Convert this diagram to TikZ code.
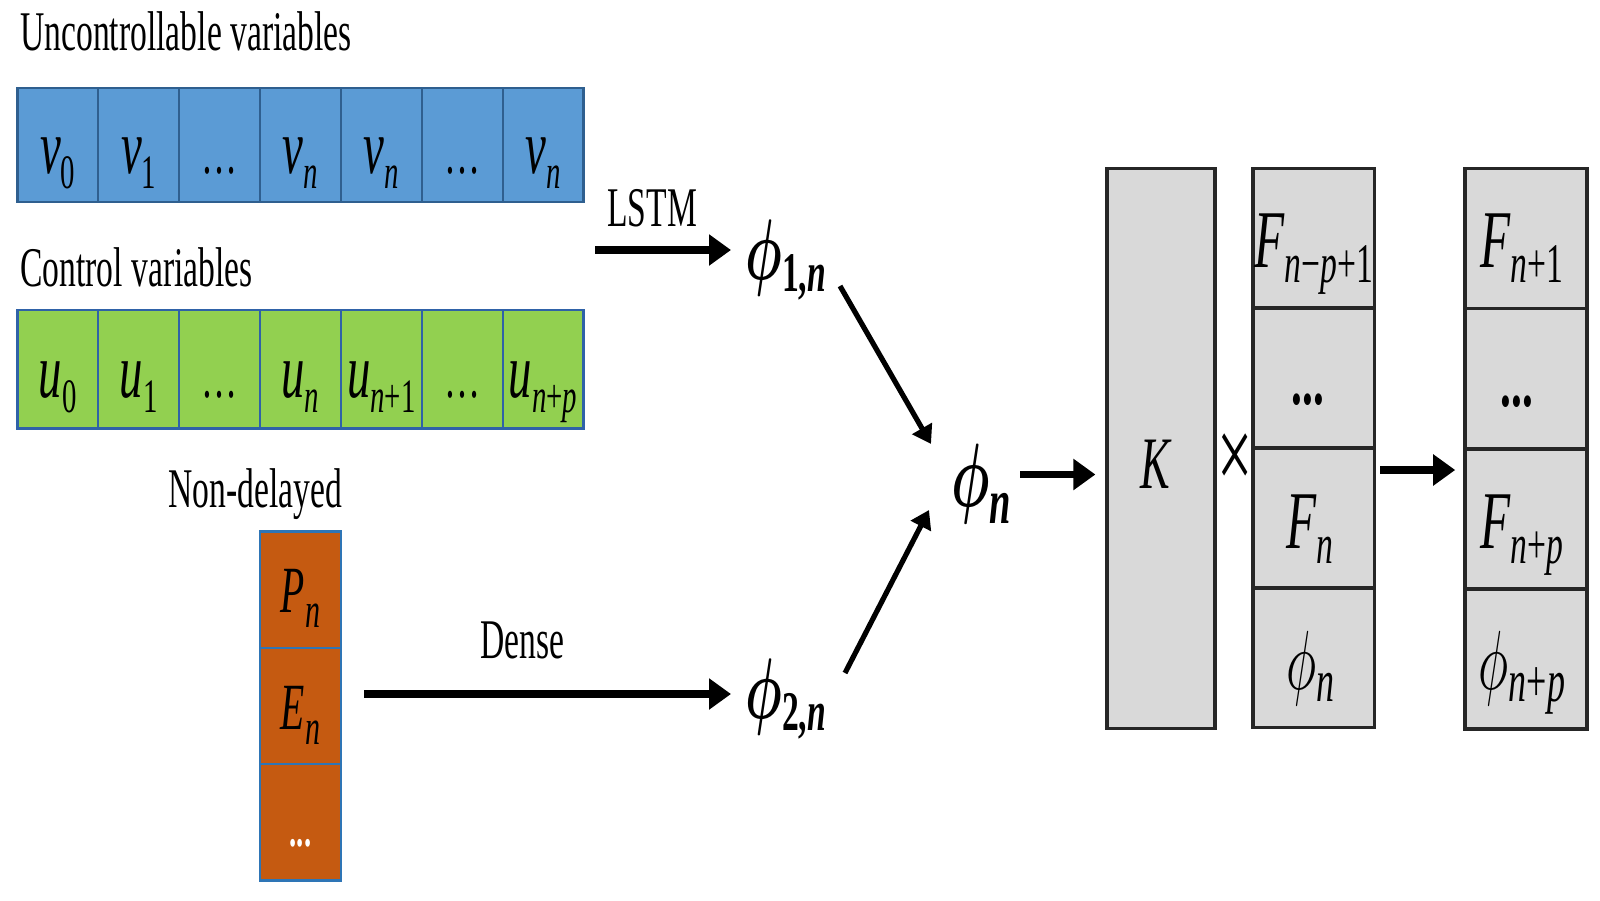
\documentclass[tikz,border=0pt]{standalone}
\usepackage{fontspec}
\setmainfont{Liberation Serif}[FakeStretch=0.6]
\usepackage{graphicx}
\usetikzlibrary{arrows.meta}
\definecolor{bfill}{HTML}{5B9BD5}
\definecolor{bline}{HTML}{2F5F8F}
\definecolor{gfill}{HTML}{92D050}
\definecolor{gline}{HTML}{2F62A8}
\definecolor{ofill}{HTML}{C55A11}
\definecolor{oline}{HTML}{2E75B6}
\definecolor{kfill}{HTML}{D9D9D9}
\definecolor{kline}{HTML}{262626}
\newcommand\sx[5]{{\fontsize{#1pt}{#1pt}\selectfont #4}\raisebox{-#3pt}{\fontsize{#2pt}{#2pt}\selectfont #5}}
\newcommand\phr[4]{\scalebox{\fpeval{0.06*#1}}[\fpeval{#1/10}]{\fontsize{10pt}{12pt}\selectfont$\phi$}\raisebox{-#3pt}{\fontsize{#2pt}{#2pt}\selectfont #4}}
\newcommand\phb[4]{\scalebox{\fpeval{0.06*#1}}[\fpeval{#1/10}]{\fontsize{10pt}{12pt}\selectfont\boldmath$\phi$}\raisebox{-#3pt}{\fontsize{#2pt}{#2pt}\selectfont\bfseries #4}}
\newcommand\bv[1]{\sx{39}{24}{7.5}{\textit{v}}{#1}}
\newcommand\gu[1]{\sx{39}{24}{7.5}{\textit{u}}{#1}}
\newcommand\fF[1]{\sx{41}{28}{7.5}{\textit{F}}{#1}}
\newcommand\rowdots{{\fontsize{30pt}{30pt}\selectfont …}}
\newcommand\coldots{{\fontsize{36pt}{36pt}\selectfont\bfseries ...}}
\begin{document}
\begin{tikzpicture}[x=0.5pt,y=-0.5pt,
  lab/.style={inner sep=0pt, anchor=base west, font=\fontsize{28pt}{30pt}\selectfont},
  txt/.style={inner sep=0pt, anchor=base},
  bcell/.style={draw=bline, fill=bfill, line width=1.2pt, minimum width=40.45pt, minimum height=57.1pt, inner sep=0pt},
  gcell/.style={draw=gline, fill=gfill, line width=1.2pt, minimum width=40.45pt, minimum height=59.2pt, inner sep=0pt},
  ocell/.style={draw=oline, fill=ofill, line width=1.2pt, minimum width=40.3pt, minimum height=58.15pt, inner sep=0pt},
  kbox/.style={draw=kline, fill=kfill, line width=1.6pt, inner sep=0pt},
  fcell/.style={kbox, line width=1.8pt, minimum width=60.75pt, minimum height=69.9pt},
  rcell/.style={kbox, line width=1.8pt, minimum width=61pt, minimum height=70.15pt},
  arr/.style={line width=3.6pt, -{Triangle[length=11pt,width=15pt]}},
  darr/.style={line width=2.6pt, -{Triangle[length=9pt,width=11pt]}}]
\useasboundingbox (0,0) rectangle (1600,900);

% labels
\node[lab] (tunc) at (20,50) {Uncontrollable variables};
\node[lab] (tctl) at (20,286) {Control variables};
\node[lab] (tnd) at (168,507) {Non-delayed};
\node[lab] (tlstm) at (607,226) {LSTM};
\node[lab] (tdense) at (480,658) {Dense};

% blue row
\foreach \t [count=\i] in {{\bv{0}},{\bv{1}},{\rowdots},{\bv{\textit{n}}},{\bv{\textit{n}}},{\rowdots},{\bv{\textit{n}}}}{
  \node[bcell] (b\i) at ({57.75+(\i-1)*80.9},144.9) {};
  \node[txt] (bt\i) at ({57.75+(\i-1)*80.9},173.5) {\t};
}
% green row
\foreach \t [count=\i] in {{\gu{0}},{\gu{1}},{\rowdots},{\gu{\textit{n}}},{\gu{\textit{n}+1}},{\rowdots},{\gu{\textit{n}+\textit{p}}}}{
  \node[gcell] (g\i) at ({57.75+(\i-1)*80.9},369.4) {};
  \node[txt] (gt\i) at ({57.75+(\i-1)*80.9},397) {\t};
}
% orange column
\node[ocell] (o1) at (300.5,589.75) {};
\node[ocell] (o2) at (300.5,706.05) {};
\node[ocell] (o3) at (300.5,822.35) {};
\node[txt] (ot1) at (300.5,612) {\sx{33}{25}{7.5}{\textit{P}}{\textit{n}}};
\node[txt] (ot2) at (300.5,729) {\sx{33}{25}{7.5}{\textit{E}}{\textit{n}}};
\node[txt, text=white] (ot3) at (300.5,846) {{\fontsize{24pt}{24pt}\selectfont\bfseries ...}};

% phi nodes
\node[inner sep=0pt, anchor=base west] (p1) at (745,279) {\phb{43}{28}{6}{1,\textit{n}}};
\node[inner sep=0pt, anchor=base west] (p2) at (745,718) {\phb{43}{28}{6}{2,\textit{n}}};
\node[inner sep=0pt, anchor=base west] (pn) at (951,506) {\phb{45}{32}{8.5}{\textit{n}}};

% K and columns
\node[kbox, minimum width=54pt, minimum height=280.1pt] (K) at (1161,448.5) {};
\node[txt] (kt) at (1156,488) {{\fontsize{37pt}{37pt}\selectfont\textit{K}}};
\node[inner sep=0pt] (times) at (1235,462) {{\fontsize{52pt}{52pt}\selectfont ×}};

\node[fcell] (F1) at (1313.75,238.3) {};
\node[fcell] (F2) at (1313.75,378.1) {};
\node[fcell] (F3) at (1313.75,517.9) {};
\node[fcell] (F4) at (1313.75,657.7) {};
\node[txt] (Ft1) at (1313.75,267) {\fF{\textit{n}−\textit{p}+1}};
\node[txt] (Ft2) at (1308,404) {\coldots};
\node[txt] (Ft3) at (1310,548) {\fF{\textit{n}}};
\node[txt] (Ft4) at (1310,689) {\phr{42}{30}{6}{\textit{n}}};

\node[rcell] (R1) at (1526,238.55) {};
\node[rcell] (R2) at (1526,378.7) {};
\node[rcell] (R3) at (1526,518.85) {};
\node[rcell] (R4) at (1526,659) {};
\node[txt] (Rt1) at (1522,267) {\fF{\textit{n}+1}};
\node[txt] (Rt2) at (1517,406) {\coldots};
\node[txt] (Rt3) at (1522,548) {\fF{\textit{n}+\textit{p}}};
\node[txt] (Rt4) at (1522,689) {\phr{42}{30}{6}{\textit{n}+\textit{p}}};

% arrows
\coordinate (ls) at (595,250);
\draw[arr, shorten >=7pt] (ls) -- (ls -| p1.west);
\coordinate (ds) at (364,694);
\draw[arr, shorten >=7pt] (ds) -- (ds -| p2.west);
\coordinate (d1s) at (840,286);
\coordinate (d1e) at (931,444);
\draw[darr] (d1s) -- (d1e);
\coordinate (d2s) at (845,673);
\coordinate (d2e) at (929,510);
\draw[darr] (d2s) -- (d2e);
\coordinate (ks) at (1020,474.5);
\draw[arr, shorten >=5pt] (ks) -- (ks -| K.west);
\coordinate (fs) at (1380,470);
\draw[arr, shorten >=4pt] (fs) -- (fs -| R3.west);
\end{tikzpicture}
\end{document}
